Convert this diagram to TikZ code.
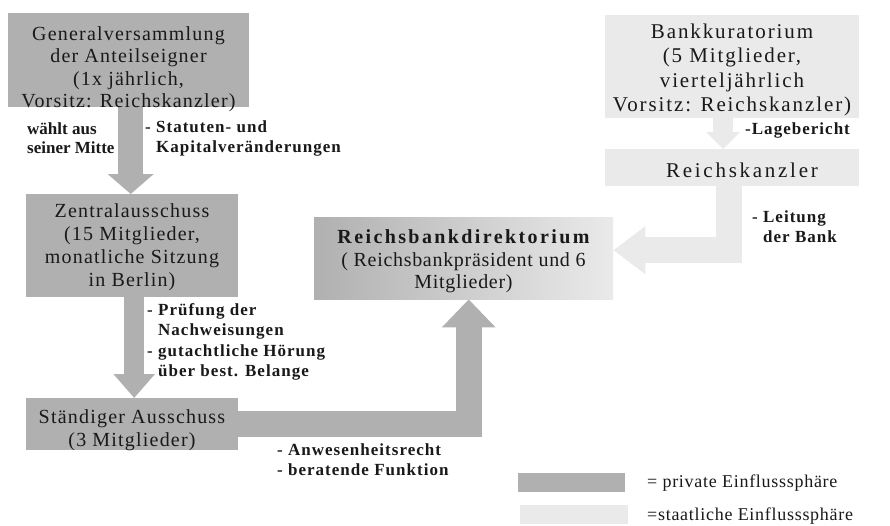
\documentclass[tikz,border=0pt]{standalone}
\usepackage{fontspec}
\setmainfont{Liberation Serif}
\newfontfamily\fontBox[LetterSpace=6]{Liberation Serif}
\newfontfamily\fontBoxR[LetterSpace=9]{Liberation Serif}
\newfontfamily\fontBoxRK[LetterSpace=13]{Liberation Serif}
\newfontfamily\fontLbl[LetterSpace=6]{Liberation Serif}
\newfontfamily\fontLblN{Liberation Serif}
\newfontfamily\fontTitle[LetterSpace=12]{Liberation Serif}
\newfontfamily\fontDir[LetterSpace=3.5]{Liberation Serif}
\newfontfamily\fontLeg[LetterSpace=4]{Liberation Serif}
\usetikzlibrary{arrows.meta}
\definecolor{gdark}{RGB}{176,176,176}
\definecolor{glight}{RGB}{234,234,234}
\definecolor{ink}{RGB}{25,25,25}
\tikzset{
  darkbox/.style={rectangle, anchor=north west, inner sep=0pt, fill=gdark},
  lightbox/.style={rectangle, anchor=north west, inner sep=0pt, fill=glight},
  boxtext/.style={anchor=north, inner sep=0pt, align=center, text=ink, font=\fontBox\fontsize{20}{23}\selectfont},
  boxtextR/.style={anchor=north, inner sep=0pt, align=center, text=ink, font=\fontBoxR\fontsize{21}{24.5}\selectfont},
  lbl/.style={anchor=north west, inner sep=0pt, align=left, text=ink, font=\fontLbl\bfseries\fontsize{17}{20}\selectfont},
  legtext/.style={anchor=base west, inner sep=0pt, text=ink, font=\fontLeg\fontsize{18}{20}\selectfont},
  conn/.style={line join=miter, line cap=butt},
}
\begin{document}
\begin{tikzpicture}[x=1pt,y=-1pt]
\fill[white] (0,0) rectangle (890,525);
\useasboundingbox (0,0) rectangle (890,525);

% boxes
\node[darkbox, minimum width=241pt, minimum height=94pt] (gv) at (8,13) {};
\node[darkbox, minimum width=212pt, minimum height=103pt] (za) at (26,194) {};
\node[darkbox, minimum width=212pt, minimum height=52pt] (sa) at (26,398) {};
\node[rectangle, anchor=north west, inner sep=0pt, minimum width=299pt, minimum height=82pt,
      left color=gdark, right color=glight] (dir) at (314,217) {};
\node[lightbox, minimum width=254pt, minimum height=103pt] (bk) at (605,15) {};
\node[lightbox, minimum width=254pt, minimum height=37pt] (rk) at (605,149) {};

% connectors
\draw[conn, draw=gdark, line width=25pt, -{Triangle[length=20pt,width=45pt]}]
  ([xshift=2pt]gv.south) -- ([xshift=-1.5pt]za.north);
\draw[conn, draw=gdark, line width=20pt, -{Triangle[length=24pt,width=40pt]}]
  ([xshift=2pt]za.south) -- ([xshift=2pt]sa.north);
\draw[conn, draw=gdark, line width=26pt, -{Triangle[length=28pt,width=52pt]}]
  (sa.east) -| ([xshift=5pt]dir.south);
\draw[conn, draw=glight, line width=20pt, -{Triangle[length=17pt,width=33pt]}]
  ([xshift=-9pt]bk.south) -- ([xshift=-9pt]rk.north);
\draw[conn, draw=glight, line width=26pt, -{Triangle[length=32pt,width=46pt]}]
  ([xshift=-3.5pt]rk.south) |- ([yshift=8pt]dir.east);

% box texts
\node[boxtext, font=\fontBox\fontsize{20}{22.5}\selectfont] (gvt) at (128.5,26) {Generalversammlung\\der Anteilseigner\\(1x jährlich,\\Vorsitz: Reichskanzler)};
\node[boxtext] (zat) at (132,203) {Zentralausschuss\\(15 Mitglieder,\\monatliche Sitzung\\in Berlin)};
\node[boxtext] (sat) at (132,409) {Ständiger Ausschuss\\(3 Mitglieder)};
\node[boxtext, font=\fontsize{20}{22}\selectfont] (dirt) at (463.5,229) {{\fontTitle\bfseries Reichsbankdirektorium}\\[1pt]{\fontDir ( Reichsbankpräsident und 6}\\{\fontDir Mitglieder)}};
\node[boxtextR] (bkt) at (732,23.5) {Bankkuratorium\\(5 Mitglieder,\\vierteljährlich\\Vorsitz: Reichskanzler)};
\node[boxtextR, font=\fontBoxRK\fontsize{21}{24.5}\selectfont] (rkt) at (742,162.5) {Reichskanzler};

% labels
\node[lbl, font=\fontLblN\bfseries\fontsize{17}{19}\selectfont] (l1) at (27,123) {wählt aus\\seiner Mitte};
\node[lbl] (l2) at (145,121) {- Statuten- und\\\phantom{- }Kapitalveränderungen};
\node[lbl, font=\fontLbl\bfseries\fontsize{17}{20.5}\selectfont] (l3) at (147,303) {- Prüfung der\\\phantom{- }Nachweisungen\\- gutachtliche Hörung\\\phantom{- }über best. Belange};
\node[lbl] (l4) at (745,123) {-Lagebericht};
\node[lbl] (l5) at (752,210) {- Leitung\\\phantom{- }der Bank};
\node[lbl] (l6) at (277,443) {- Anwesenheitsrecht\\- beratende Funktion};

% legend
\node[darkbox, minimum width=107pt, minimum height=19pt] (legd) at (518,473) {};
\node[lightbox, minimum width=108pt, minimum height=19pt] (legl) at (520,505) {};
\node[legtext] (legdt) at (647,487) {= private Einflusssphäre};
\node[legtext] (leglt) at (647,520) {=staatliche Einflusssphäre};
\end{tikzpicture}
\end{document}
